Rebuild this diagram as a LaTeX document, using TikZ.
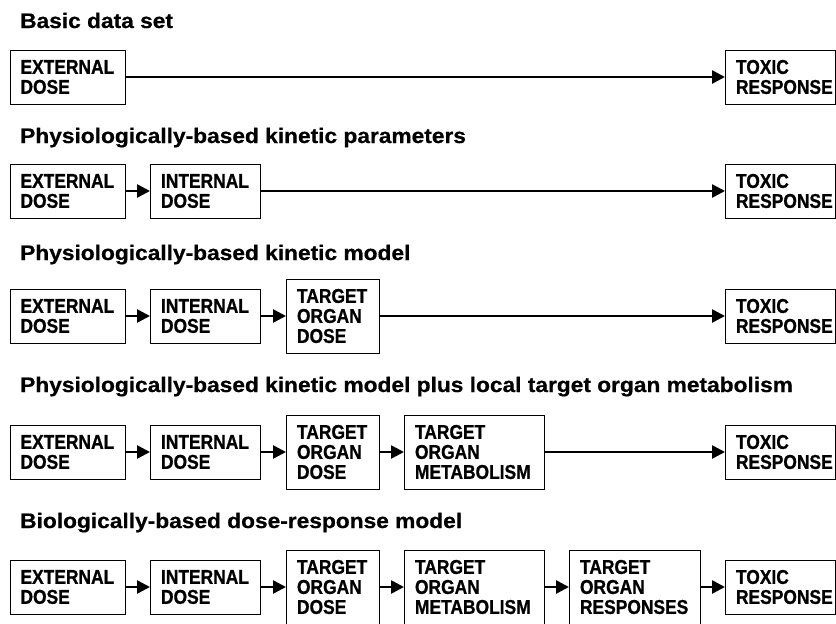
\documentclass[tikz,border=0pt]{standalone}
\usepackage{fontspec}
\setmainfont{Liberation Sans}
\newfontfamily\boxfont[FakeStretch=0.87,FakeBold=0.8]{Liberation Sans}
\newfontfamily\titlefont[FakeStretch=1.082,FakeBold=0.6]{Liberation Sans}
\usetikzlibrary{arrows.meta}
\begin{document}
\begin{tikzpicture}[x=1pt,y=-1pt,
  box/.style={draw, line width=1pt, anchor=west, align=left, inner xsep=10.5pt, inner ysep=0pt,
    font=\boxfont\bfseries\fontsize{20pt}{20pt}\selectfont},
  short/.style={box, minimum height=54pt},
  tall/.style={box, minimum height=74pt},
  ext/.style={short, text width=94.5pt},
  int/.style={short, text width=89pt},
  tod/.style={tall, text width=72pt},
  met/.style={tall, text width=119pt},
  rsp/.style={tall, text width=110pt},
  tox/.style={short, text width=89pt},
  ttl/.style={anchor=base west, inner sep=0pt, font=\titlefont\bfseries\fontsize{21pt}{21pt}\selectfont},
  arr/.style={line width=2.6pt, -{Triangle[length=13pt,width=13pt]}}]
\useasboundingbox (0,0) rectangle (836,624);
\fill[white] (0,0) rectangle (836,624);

% Row 1
\node[ttl] (t1) at (20,28) {Basic data set};
\node[ext] (e1) at (9.5,77) {EXTERNAL\\DOSE};
\node[tox] (x1) at (725,77) {TOXIC\\RESPONSE};
\draw[arr] (e1) -- (x1);

% Row 2
\node[ttl] (t2) at (20,143) {Physiologically-based kinetic parameters};
\node[ext] (e2) at (9.5,191) {EXTERNAL\\DOSE};
\node[int] (i2) at (150,191) {INTERNAL\\DOSE};
\node[tox] (x2) at (725,191) {TOXIC\\RESPONSE};
\draw[arr] (e2) -- (i2);
\draw[arr] (i2) -- (x2);

% Row 3
\node[ttl] (t3) at (20,260) {Physiologically-based kinetic model};
\node[ext] (e3) at (9.5,316) {EXTERNAL\\DOSE};
\node[int] (i3) at (150,316) {INTERNAL\\DOSE};
\node[tod] (d3) at (286,316) {TARGET\\ORGAN\\DOSE};
\node[tox] (x3) at (725,316) {TOXIC\\RESPONSE};
\draw[arr] (e3) -- (i3);
\draw[arr] (i3) -- (d3);
\draw[arr] (d3) -- (x3);

% Row 4
\node[ttl] (t4) at (20,392) {Physiologically-based kinetic model plus local target organ metabolism};
\node[ext] (e4) at (9.5,452) {EXTERNAL\\DOSE};
\node[int] (i4) at (150,452) {INTERNAL\\DOSE};
\node[tod] (d4) at (286,452) {TARGET\\ORGAN\\DOSE};
\node[met] (m4) at (404,452) {TARGET\\ORGAN\\METABOLISM};
\node[tox] (x4) at (725,452) {TOXIC\\RESPONSE};
\draw[arr] (e4) -- (i4);
\draw[arr] (i4) -- (d4);
\draw[arr] (d4) -- (m4);
\draw[arr] (m4) -- (x4);

% Row 5
\node[ttl] (t5) at (20,528) {Biologically-based dose-response model};
\node[ext] (e5) at (9.5,587) {EXTERNAL\\DOSE};
\node[int] (i5) at (150,587) {INTERNAL\\DOSE};
\node[tod] (d5) at (286,587) {TARGET\\ORGAN\\DOSE};
\node[met] (m5) at (404,587) {TARGET\\ORGAN\\METABOLISM};
\node[rsp] (r5) at (569,587) {TARGET\\ORGAN\\RESPONSES};
\node[tox] (x5) at (725,587) {TOXIC\\RESPONSE};
\draw[arr] (e5) -- (i5);
\draw[arr] (i5) -- (d5);
\draw[arr] (d5) -- (m5);
\draw[arr] (m5) -- (r5);
\draw[arr] (r5) -- (x5);
\end{tikzpicture}
\end{document}
